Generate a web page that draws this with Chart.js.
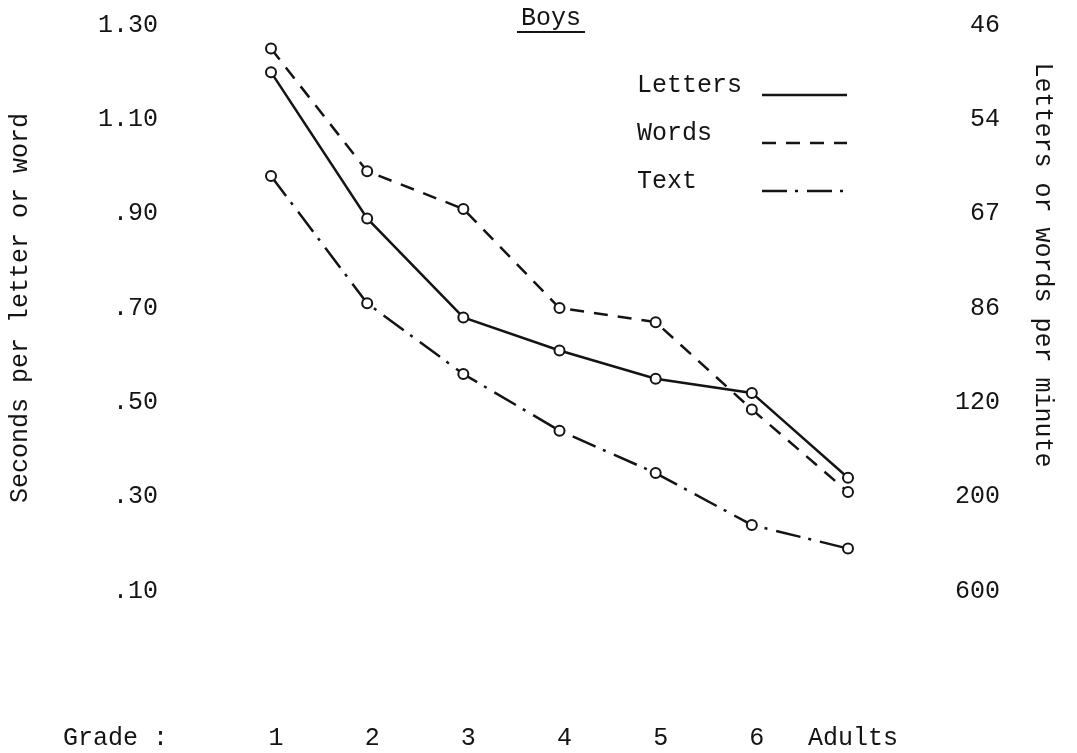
<!DOCTYPE html>
<html>
<head>
<meta charset="utf-8">
<script src="https://cdn.jsdelivr.net/npm/chart.js@4.4.0/dist/chart.umd.min.js"></script>
<style>
  html, body { margin: 0; padding: 0; background: #fff; }
</style>
</head>
<body>
<canvas id="boysChart" width="1077" height="753"></canvas>
<script>
// values (seconds per letter or word)
const grades = ['1', '2', '3', '4', '5', '6', 'Adults'];
const letters = [1.20, 0.89, 0.68, 0.61, 0.55, 0.52, 0.34];
const words = [1.25, 0.99, 0.91, 0.70, 0.67, 0.485, 0.31];
const text = [0.98, 0.71, 0.56, 0.44, 0.35, 0.24, 0.19];

// both vertical axes share the same ticks, the right one is 60 / seconds
const secondTicks = [0.10, 0.30, 0.50, 0.70, 0.90, 1.10, 1.30];
const secondLabels = ['.10', '.30', '.50', '.70', '.90', '1.10', '1.30'];
const perMinuteLabels = ['600', '200', '120', ' 86', ' 67', ' 54', ' 46'];

const ink = '#141414';
const fontFamily = "'Liberation Mono', 'DejaVu Sans Mono', monospace";

Chart.defaults.font.family = fontFamily;
Chart.defaults.font.size = 25;
Chart.defaults.color = ink;

function setTicks(axis) {
    axis.ticks = secondTicks.map(v => ({ value: v }));
}

// tick padding is only wanted sideways, not as extra room above/below the plot
function fixSize(size) {
    return function (axis) {
        if (axis.isHorizontal()) {
            axis.height = size;
        } else {
            axis.width = size;
        }
        axis.paddingTop = 0;
        axis.paddingBottom = 0;
        axis.paddingLeft = 0;
        axis.paddingRight = 0;
    };
}

// title, legend, "Grade :" and right-hand axis title
const extraText = {
    id: 'extraText',
    afterDraw(chart) {
        const ctx = chart.ctx;
        ctx.save();
        ctx.fillStyle = ink;
        ctx.strokeStyle = ink;
        ctx.font = '25px ' + fontFamily;

        ctx.textAlign = 'center';
        ctx.textBaseline = 'middle';
        ctx.fillText('Boys', 551, 18);
        const w = ctx.measureText('Boys').width;
        ctx.lineWidth = 2;
        ctx.beginPath();
        ctx.moveTo(551 - w / 2 - 4, 32);
        ctx.lineTo(551 + w / 2 + 4, 32);
        ctx.stroke();

        ctx.textAlign = 'left';
        ctx.fillText('Grade :', 63, 738);

        chart.data.datasets.forEach((ds, i) => {
            const y = 85 + i * 48;
            ctx.fillText(ds.label, 637, y);
            ctx.setLineDash(ds.borderDash || []);
            ctx.lineWidth = ds.borderWidth;
            ctx.beginPath();
            ctx.moveTo(762, y + 10);
            ctx.lineTo(847, y + 10);
            ctx.stroke();
        });
        ctx.setLineDash([]);

        ctx.translate(1043, 265);
        ctx.rotate(Math.PI / 2);
        ctx.textAlign = 'center';
        ctx.fillText('Letters or words per minute', 0, 0);
        ctx.restore();
    }
};

const pointStyle = {
    pointRadius: 5,
    pointBorderWidth: 2,
    pointBackgroundColor: '#fff',
    pointBorderColor: ink,
    borderColor: ink,
    borderWidth: 2.5,
    tension: 0,
    fill: false
};

const ctx = document.getElementById('boysChart').getContext('2d');
const boysChart = new Chart(ctx, {
    type: 'line',
    data: {
        labels: grades,
        datasets: [
            Object.assign({ label: 'Letters', data: letters, borderDash: [] }, pointStyle),
            Object.assign({ label: 'Words', data: words, borderDash: [14, 10] }, pointStyle),
            Object.assign({ label: 'Text', data: text, borderDash: [25, 8, 3, 9] }, pointStyle)
        ]
    },
    options: {
        responsive: false,
        animation: false,
        devicePixelRatio: 1,
        layout: { padding: { top: 25, left: 0, right: 0, bottom: 0 } },
        plugins: {
            legend: { display: false },
            tooltip: { enabled: false }
        },
        scales: {
            x: {
                offset: false,
                grid: { display: false, drawTicks: false, tickLength: 0 },
                border: { display: false },
                ticks: {
                    autoSkip: false,
                    maxRotation: 0,
                    minRotation: 0,
                    padding: 132,
                    labelOffset: 5
                },
                afterFit: fixSize(162)
            },
            y: {
                position: 'left',
                min: 0.10,
                max: 1.30,
                grid: { display: false, drawTicks: false, tickLength: 0 },
                border: { display: false },
                afterBuildTicks: setTicks,
                ticks: {
                    padding: 113,
                    callback: (value, index) => secondLabels[index]
                },
                title: {
                    display: true,
                    text: 'Seconds per letter or word',
                    padding: 5
                },
                afterFit: fixSize(271)
            },
            y2: {
                position: 'right',
                min: 0.10,
                max: 1.30,
                grid: { display: false, drawTicks: false, tickLength: 0 },
                border: { display: false },
                afterBuildTicks: setTicks,
                ticks: {
                    padding: 107,
                    callback: (value, index) => perMinuteLabels[index]
                },
                afterFit: fixSize(229)
            }
        }
    },
    plugins: [extraText]
});
</script>
</body>
</html>
